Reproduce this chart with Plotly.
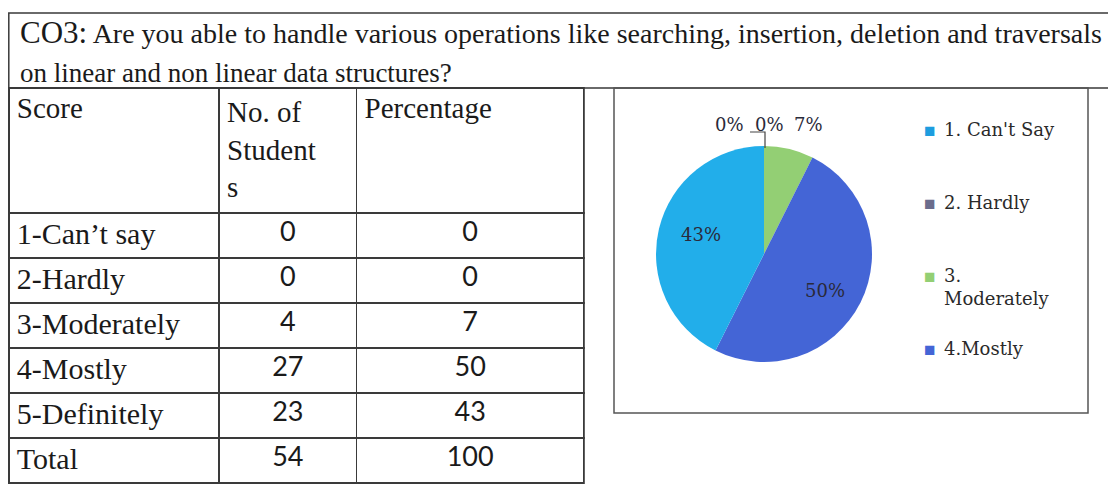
import plotly.graph_objects as go

# ---------------- data ----------------
title_prefix = "CO3:"
title_line1 = "Are you able to handle various operations like searching, insertion, deletion and traversals"
title_line2 = "on linear and non linear data structures?"

header_labels = ["Score", "No. of<br>Student<br>s", "Percentage"]
scores = ["1-Can\u2019t say", "2-Hardly", "3-Moderately", "4-Mostly", "5-Definitely", "Total"]
students = [0, 0, 4, 27, 23, 54]
percentages = [0, 0, 7, 50, 43, 100]

pie_labels = ["1. Can't Say", "2. Hardly", "3. Moderately", "4.Mostly", "5. Definitely"]
pie_values = students[:5]
legend_labels = ["1. Can't Say", "2. Hardly", "3.<br>Moderately", "4.Mostly"]

# ---------------- styles / layout ----------------
PAGE_W, PAGE_H = 1116, 489
OFF = 8  # default body margin of the html page
FW, FH = PAGE_W - OFF, PAGE_H - OFF
pie_colors = ["#1d9ddf", "#6b6c8c", "#93cf74", "#4465d6", "#22aeea"]
line_col = "#3a3a3a"
serif = "Liberation Serif"
label_font = "DejaVu Serif"


def px(x):
    return max(0.0, (x - OFF) / FW)


def py(y):
    return 1 - (y - OFF) / FH


fig = go.Figure()

# table
fig.add_trace(go.Table(
    domain=dict(x=[px(8.8), px(584)], y=[0, py(88)]),
    columnwidth=[211, 138, 228],
    header=dict(
        values=header_labels,
        align=["left", "left", "left"],
        font=dict(family=serif, size=29, color="#1a1a1a"),
        fill_color="white",
        line=dict(color=line_col, width=1.5),
        height=125,
    ),
    cells=dict(
        values=[scores, students, percentages],
        align=["left", "center", "center"],
        font=dict(family=[serif, "Lato", "Lato"], size=[30, 27, 27], color="#1a1a1a"),
        fill_color="white",
        line=dict(color=line_col, width=1.5),
        height=45,
    ),
))

# pie
cx, cy, r = 764, 254, 108
total = sum(pie_values)
fig.add_trace(go.Pie(
    labels=pie_labels,
    values=pie_values,
    sort=False,
    direction="clockwise",
    rotation=0,
    marker=dict(colors=pie_colors, line=dict(width=0)),
    textinfo="none",
    domain=dict(x=[px(cx - r), px(cx + r)], y=[py(cy + r), py(cy - r)]),
    showlegend=False,
    hoverinfo="label+percent",
))

shapes = [
    # title box
    dict(type="rect", xref="paper", yref="paper", x0=px(8.8), x1=px(1114), y0=py(88), y1=py(13),
         line=dict(color=line_col, width=1.5)),
    # chart box
    dict(type="rect", xref="paper", yref="paper", x0=px(614), x1=px(1088), y0=py(413), y1=py(88),
         line=dict(color="#555555", width=1.5)),
    # leader line of the first small label
    dict(type="path", xref="paper", yref="paper",
         path=f"M {px(750)} {py(132)} L {px(765)} {py(132)} L {px(765)} {py(cy - r + 2)}",
         line=dict(color="#444444", width=1.2)),
]

annotations = [
    dict(xref="paper", yref="paper", x=px(18), y=py(33), xanchor="left", yanchor="middle",
         showarrow=False, align="left",
         text=f"<span style='font-size:31px'>{title_prefix}</span> {title_line1}",
         font=dict(family=serif, size=28, color="#1a1a1a")),
    dict(xref="paper", yref="paper", x=px(18), y=py(73), xanchor="left", yanchor="middle",
         showarrow=False, align="left", text=title_line2,
         font=dict(family=serif, size=27, color="#1a1a1a")),
]

# percentage labels of the slices (text computed from the data)
label_pos = [(729, 125), (769, 125), (809, 125), (825, 290), (701, 234)]
for i, (lx, ly) in enumerate(label_pos):
    annotations.append(dict(xref="paper", yref="paper", x=px(lx), y=py(ly),
                            xanchor="center", yanchor="middle", showarrow=False,
                            text=f"{round(100 * pie_values[i] / total)}%",
                            font=dict(family=label_font, size=18, color="#2a2a3a")))

# legend (first four entries visible in the chart box)
leg_x_sq, leg_x_txt, leg_y0, leg_step = 930, 942, 130, 73
for i, lab in enumerate(legend_labels):
    yy = leg_y0 + i * leg_step
    annotations.append(dict(xref="paper", yref="paper", x=px(leg_x_sq), y=py(yy),
                            xanchor="center", yanchor="middle", showarrow=False,
                            text="\u25a0", font=dict(size=19, color=pie_colors[i])))
    annotations.append(dict(xref="paper", yref="paper", x=px(leg_x_txt), y=py(yy - 13),
                            xanchor="left", yanchor="top", showarrow=False, align="left",
                            text=lab, font=dict(family=label_font, size=18, color="#2a2a2a")))

fig.update_layout(
    width=FW, height=FH,
    margin=dict(l=0, r=0, t=0, b=0),
    paper_bgcolor="white",
    plot_bgcolor="white",
    shapes=shapes,
    annotations=annotations,
)

fig.write_html("out.html")
